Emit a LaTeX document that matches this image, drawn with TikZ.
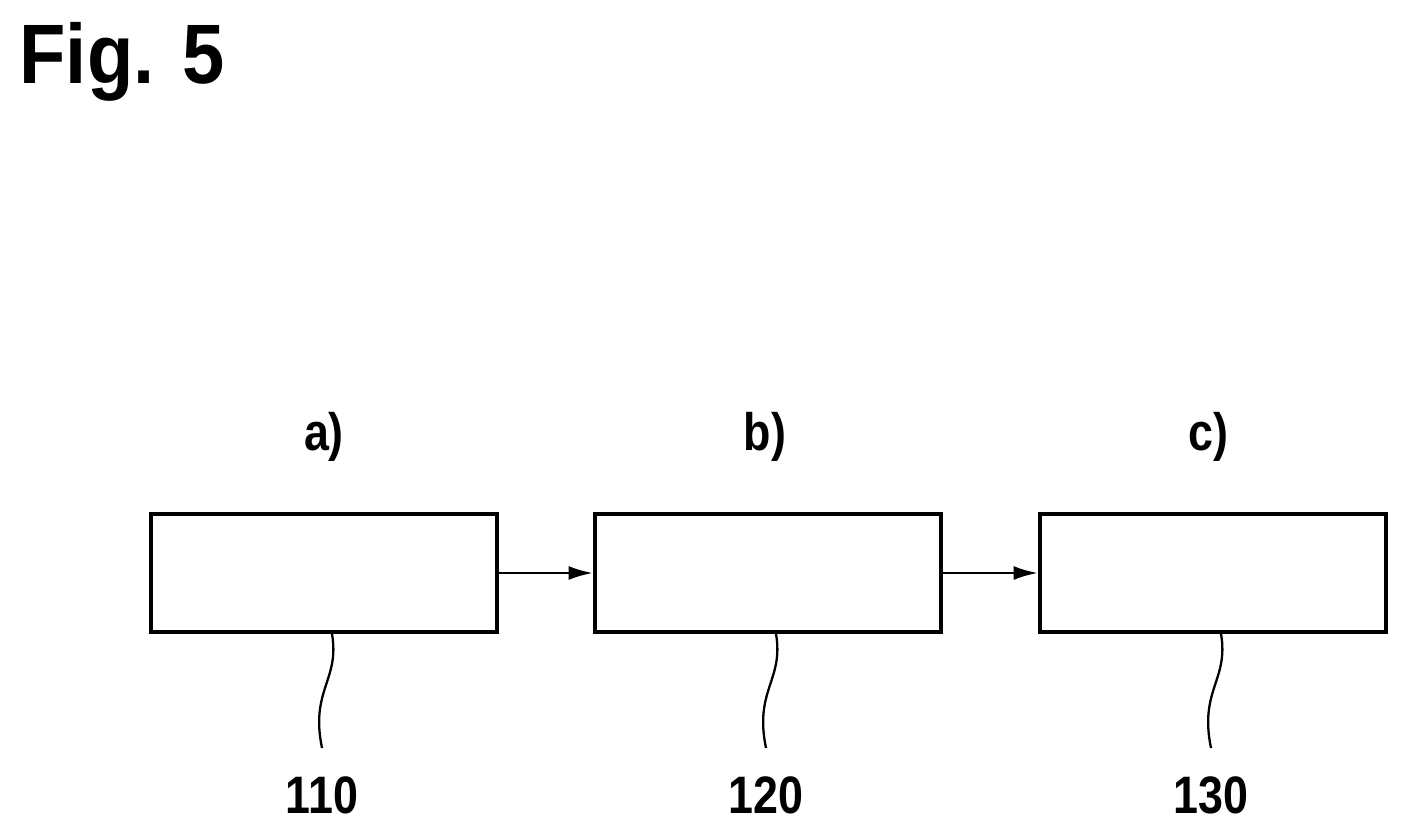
\documentclass[tikz,border=0pt]{standalone}
\usepackage{fontspec}
\setmainfont{Liberation Sans}
\usetikzlibrary{arrows.meta}
\begin{document}
\begin{tikzpicture}[x=0.02cm,y=-0.02cm,
  box/.style={draw,line width=2.2pt,minimum width=6.92cm,minimum height=2.36cm,inner sep=0},
  lab/.style={font=\fontsize{30}{30}\selectfont\bfseries,xscale=0.85},
  arr/.style={line width=1.6pt,-{Latex[length=14pt,width=8pt]}},
  lead/.style={line width=1.3pt}]
\useasboundingbox (0,0) rectangle (1410,835);
\node[anchor=west,font=\fontsize{48}{48}\selectfont\bfseries,xscale=0.9] (fig) at (14,62) {Fig. 5};
\node[box] (a) at (324,573) {};
\node[box] (b) at (768,573) {};
\node[box] (c) at (1213,573) {};
\node[lab] (la) at (324,437) {a)};
\node[lab] (lb) at (765,437) {b)};
\node[lab] (lc) at (1208,437) {c)};
\node[lab] (n1) at (322,795) {110};
\node[lab] (n2) at (766,795) {120};
\node[lab] (n3) at (1211,795) {130};
\draw[arr] (a.east) -- (b.west);
\draw[arr] (b.east) -- (c.west);
\coordinate (e1) at (322,748); \coordinate (e2) at (766,748); \coordinate (e3) at (1211,748);
\draw[lead] (a.south -| 332,0) .. controls (340,680) and (310,690) .. (e1);
\draw[lead] (b.south -| 776,0) .. controls (784,680) and (754,690) .. (e2);
\draw[lead] (c.south -| 1221,0) .. controls (1229,680) and (1199,690) .. (e3);
\end{tikzpicture}
\end{document}
